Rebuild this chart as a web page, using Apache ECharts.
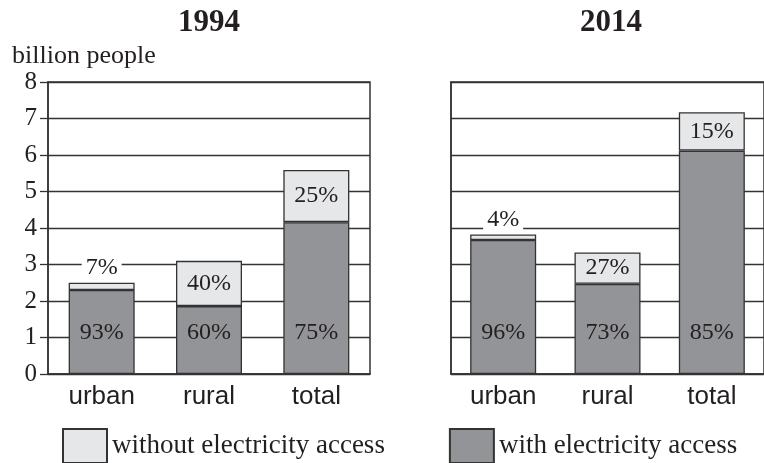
<!DOCTYPE html>
<html>
<head>
<meta charset="utf-8">
<script src="https://cdn.jsdelivr.net/npm/echarts@6/dist/echarts.min.js"></script>
<style>
  html, body { margin: 0; padding: 0; background: #fff; }
  #chart { width: 764px; height: 463px; }
</style>
</head>
<body>
<div id="chart"></div>
<script>
var categories = ['urban', 'rural', 'total'];
var yTicks = [0, 1, 2, 3, 4, 5, 6, 7, 8];

// billion people
var with1994 = [2.30, 1.86, 4.16];
var without1994 = [0.20, 1.24, 1.43];
var with2014 = [3.67, 2.47, 6.12];
var without2014 = [0.15, 0.86, 1.05];

var withPct1994 = ['93%', '60%', '75%'];
var withoutPct1994 = ['7%', '40%', '25%'];
var withPct2014 = ['96%', '73%', '85%'];
var withoutPct2014 = ['4%', '27%', '15%'];

var serif = 'Liberation Serif';
var sans = 'Liberation Sans';
var darkGray = '#939497';
var lightGray = '#e6e7e8';
var ink = '#231f20';

function withSeries(vals, pcts, idx) {
  return {
    name: 'with electricity access',
    type: 'bar',
    stack: 's' + idx,
    xAxisIndex: idx,
    yAxisIndex: idx,
    barWidth: 66,
    itemStyle: { color: darkGray, borderColor: '#333', borderWidth: 1.3 },
    label: {
      show: true,
      position: 'insideBottom',
      distance: 29,
      fontFamily: serif,
      fontSize: 24,
      color: ink,
      formatter: function (p) { return pcts[p.dataIndex]; }
    },
    data: vals
  };
}

function withoutSeries(vals, pcts, idx) {
  return {
    name: 'without electricity access',
    type: 'bar',
    stack: 's' + idx,
    xAxisIndex: idx,
    yAxisIndex: idx,
    barWidth: 66,
    itemStyle: { color: lightGray, borderColor: '#333', borderWidth: 1.3 },
    label: {
      show: true,
      position: 'inside',
      fontFamily: serif,
      fontSize: 24,
      color: ink,
      formatter: function (p) { return pcts[p.dataIndex]; }
    },
    data: vals.map(function (v, i) {
      if (i === 0) {
        // thin slice: label sits above the bar
        return { value: v, label: { position: 'top', distance: 3, backgroundColor: '#fff', padding: [0, 4] } };
      }
      return v;
    })
  };
}

var chart = echarts.init(document.getElementById('chart'));

var option = {
  animation: false,
  title: [
    { text: '1994', left: 204, top: 2, textAlign: 'center',
      textStyle: { fontFamily: serif, fontWeight: 'bold', fontSize: 31, color: ink } },
    { text: '2014', left: 606, top: 2, textAlign: 'center',
      textStyle: { fontFamily: serif, fontWeight: 'bold', fontSize: 31, color: ink } },
    { text: 'billion people', left: 7, top: 38,
      textStyle: { fontFamily: serif, fontWeight: 'normal', fontSize: 26, color: ink } }
  ],
  legend: {
    left: 57,
    top: 423,
    icon: 'rect',
    itemWidth: 44,
    itemHeight: 34,
    itemGap: 64,
    textStyle: { fontFamily: serif, fontSize: 27, color: ink },
    data: ['without electricity access', 'with electricity access']
  },
  grid: [
    { left: 48, top: 82, width: 322, height: 292, show: true, borderColor: '#333', borderWidth: 1.5 },
    { left: 451, top: 82, width: 322, height: 292, show: true, borderColor: '#333', borderWidth: 1.5 }
  ],
  xAxis: [0, 1].map(function (i) {
    return {
      type: 'category',
      gridIndex: i,
      data: categories,
      axisLine: { lineStyle: { color: '#333', width: 1.5 } },
      axisTick: { show: false },
      axisLabel: { fontFamily: sans, fontSize: 26, color: ink, margin: 10 }
    };
  }),
  yAxis: [0, 1].map(function (i) {
    return {
      type: 'value',
      gridIndex: i,
      min: yTicks[0],
      max: yTicks[yTicks.length - 1],
      interval: 1,
      axisLine: { show: true, lineStyle: { color: '#333', width: 1.5 } },
      axisTick: { show: i === 0, length: 8, lineStyle: { color: '#333', width: 1.3 } },
      axisLabel: { show: i === 0, fontFamily: serif, fontSize: 25, color: ink, margin: 11 },
      splitLine: { show: true, lineStyle: { color: '#333', width: 1.3 } }
    };
  }),
  series: [
    withSeries(with1994, withPct1994, 0),
    withoutSeries(without1994, withoutPct1994, 0),
    withSeries(with2014, withPct2014, 1),
    withoutSeries(without2014, withoutPct2014, 1)
  ]
};

chart.setOption(option);
</script>
</body>
</html>
